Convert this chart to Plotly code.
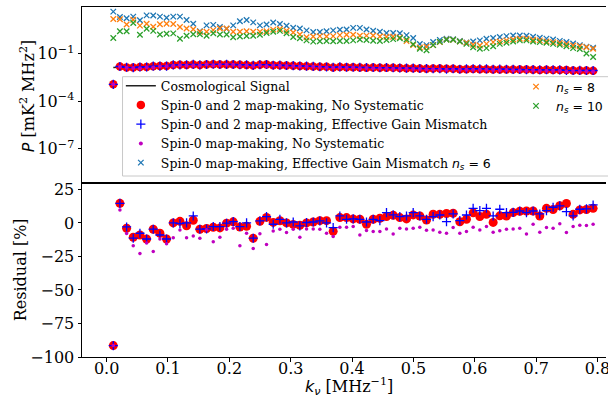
import plotly.graph_objects as go

# ---------------- data ----------------
k_nu = [0.0109, 0.0217, 0.0326, 0.0434, 0.0543, 0.0652, 0.0760, 0.0869, 0.0977, 0.1086,
        0.1195, 0.1303, 0.1412, 0.1520, 0.1629, 0.1738, 0.1846, 0.1955, 0.2063, 0.2172,
        0.2281, 0.2389, 0.2498, 0.2606, 0.2715, 0.2824, 0.2932, 0.3041, 0.3149, 0.3258,
        0.3367, 0.3475, 0.3584, 0.3692, 0.3801, 0.3910, 0.4018, 0.4127, 0.4235, 0.4344,
        0.4453, 0.4561, 0.4670, 0.4778, 0.4887, 0.4996, 0.5104, 0.5213, 0.5321, 0.5430,
        0.5539, 0.5647, 0.5756, 0.5864, 0.5973, 0.6082, 0.6190, 0.6299, 0.6407, 0.6516,
        0.6625, 0.6733, 0.6842, 0.6950, 0.7059, 0.7168, 0.7276, 0.7385, 0.7493, 0.7602,
        0.7711, 0.7819, 0.7928]

# cosmological signal, log10 P [mK^2 MHz^2]
signal_log10 = [-1.86, -1.86, -1.84, -1.82, -1.80, -1.78, -1.76, -1.74, -1.72, -1.70,
                -1.70, -1.69, -1.69, -1.68, -1.66, -1.65, -1.66, -1.67, -1.68, -1.68,
                -1.69, -1.68, -1.69, -1.70, -1.72, -1.73, -1.74, -1.75, -1.76, -1.78,
                -1.80, -1.82, -1.83, -1.84, -1.85, -1.86, -1.86, -1.87, -1.87, -1.88,
                -1.89, -1.90, -1.91, -1.92, -1.93, -1.94, -1.95, -1.95, -1.96, -1.96,
                -1.97, -1.97, -1.98, -1.98, -1.99, -1.99, -2.00, -2.00, -2.01, -2.01,
                -2.02, -2.03, -2.03, -2.04, -2.04, -2.05, -2.06, -2.07, -2.08, -2.08,
                -2.09, -2.10, -2.11]

# residuals [%]
res_s02_nosys = [-91.5, 14.6, -4.0, -10.7, -9.0, -12.0, -4.7, -7.7, -12.0, 0.0,
                 1.2, -2.2, 2.0, -4.7, -4.2, -3.2, -3.7, -0.2, 0.8, -3.0,
                 -2.5, -11.4, 1.2, 4.1, 0.4, 1.6, 0.0, -1.1, -1.7, 0.0,
                 0.7, 1.7, 1.7, -6.3, 4.0, 4.0, 3.0, 2.7, -1.0, 2.7,
                 3.5, 4.7, 5.7, 4.0, 3.0, 6.0, 5.2, 2.2, 6.5, 6.4,
                 7.0, 7.2, 0.9, 2.7, 7.5, 4.7, 6.4, 0.4, 5.3, 5.2,
                 7.7, 8.7, 8.9, 8.9, 5.2, 10.9, 10.0, 12.8, 14.5, 6.4,
                 9.7, 10.0, 10.9]
res_s02_gain = [-91.5, 14.6, -3.0, -11.4, -7.7, -12.0, -4.7, -9.0, -12.0, 0.0,
                -0.5, 0.0, 5.2, -4.7, -4.5, -2.7, -2.7, -0.2, 1.0, -2.7,
                0.0, -11.4, 1.5, 4.7, -1.0, 2.7, 0.0, 0.7, -2.2, 0.3,
                0.7, 1.5, 0.0, -3.5, 5.2, 2.7, 3.0, 2.7, 0.7, 2.7,
                1.7, 7.7, 6.0, 4.7, 5.2, 7.7, 5.2, 2.7, 4.7, 5.9,
                0.9, 6.7, 1.7, 5.9, 10.9, 9.2, 10.9, 5.2, 10.2, 7.7,
                7.9, 8.9, 7.7, 8.9, 6.7, 9.2, 11.7, 12.7, 8.4, 5.2,
                10.2, 10.5, 13.4]
res_s0_nosys = [-91.5, 9.7, -7.8, -17.0, -22.8, -15.0, -21.3, -12.0, -15.6, -11.0,
                -5.2, -11.0, -9.7, -11.4, -5.0, -14.0, -10.7, -4.7, -4.0, -17.0,
                -7.7, -19.0, -8.0, -16.0, -6.0, -4.7, -7.2, -4.7, -10.7, -4.5,
                -4.5, -4.7, -7.7, -10.2, -3.2, -3.2, -2.7, -9.0, -5.7, -6.4,
                -6.4, -4.5, -8.2, -4.0, -4.5, -4.0, -3.2, -5.5, -5.2, -6.9,
                -7.7, -3.5, -7.7, -6.4, -3.2, -5.2, -2.7, -6.9, -5.9, -4.7,
                -4.5, -4.0, -8.2, -1.0, -6.9, -3.5, -4.0, -0.7, -7.2, -2.7,
                -1.7, -2.0, -1.0]

# spin-0 map-making with effective gain mismatch, log10 P
s0_gain_ns6_log10 = [1.67, 1.33, 1.25, 1.35, 1.12, 1.43, 1.42, 1.35, 1.28, 1.35,
                     1.35, 1.14, 0.90, 0.43, 0.80, 0.83, 0.69, 0.59, 0.80, 1.06,
                     1.14, 0.99, 0.80, 0.85, 0.98, 0.88, 0.77, 0.65, 0.60, 0.48,
                     0.38, 0.38, 0.43, 0.48, 0.52, 0.54, 0.64, 0.64, 0.54, 0.46,
                     0.40, 0.32, 0.32, 0.30, 0.18, 0.00, -0.38, -0.45, -0.25, -0.12,
                     -0.05, -0.08, -0.18, -0.28, -0.22, -0.15, -0.05, 0.00, 0.06, 0.12,
                     0.16, 0.16, 0.14, 0.08, 0.02, -0.04, -0.10, -0.18, -0.25, -0.35,
                     -0.45, -0.55, -0.62]
s0_gain_ns8_log10 = [1.20, 1.19, 0.85, 1.15, 0.78, 0.90, 0.71, 0.87, 0.90, 0.88,
                     0.70, 0.60, 0.55, 0.40, 0.40, 0.50, 0.60, 0.60, 0.40, 0.40,
                     0.43, 0.40, 0.40, 0.43, 0.53, 0.57, 0.46, 0.35, 0.22, 0.05,
                     0.10, 0.12, 0.10, 0.12, 0.18, 0.20, 0.20, 0.14, 0.15, 0.16,
                     0.10, 0.08, 0.08, 0.04, -0.20, -0.45, -0.60, -0.55, -0.45, -0.26,
                     -0.09, -0.11, -0.22, -0.30, -0.43, -0.47, -0.37, -0.26, -0.22, -0.15,
                     -0.09, -0.05, -0.05, -0.11, -0.15, -0.22, -0.26, -0.32, -0.39, -0.47,
                     -0.52, -0.58, -0.68]
s0_gain_ns10_log10 = [0.00, 0.43, 0.43, 0.95, 0.20, 0.59, 0.45, 0.22, 0.27, 0.29,
                      -0.05, 0.14, 0.24, 0.24, 0.14, 0.30, 0.22, 0.22, 0.05, 0.09,
                      0.13, 0.14, 0.20, 0.32, 0.40, 0.45, 0.30, 0.06, -0.02, -0.15,
                      -0.23, -0.21, -0.19, -0.21, -0.19, -0.19, -0.15, -0.10, -0.13, -0.17,
                      -0.19, -0.13, -0.07, -0.02, -0.10, -0.40, -0.68, -0.78, -0.45, -0.24,
                      -0.11, -0.11, -0.22, -0.37, -0.58, -0.68, -0.64, -0.52, -0.37, -0.30,
                      -0.22, -0.15, -0.15, -0.22, -0.26, -0.30, -0.37, -0.43, -0.52, -0.64,
                      -0.70, -0.98, -1.20]

x_ticks = [0.0, 0.1, 0.2, 0.3, 0.4, 0.5, 0.6, 0.7, 0.8]
res_ticks = [25, 0, -25, -50, -75, -100]
p_ticks = [1e-7, 1e-4, 1e-1]
p_tick_text = ["10<sup>\u22127</sup>", "10<sup>\u22124</sup>", "10<sup>\u22121</sup>"]

# ---------------- derived quantities ----------------
signal = [10 ** v for v in signal_log10]
p_s02_nosys = [s * (1 + r / 100) for s, r in zip(signal, res_s02_nosys)]
p_s02_gain = [s * (1 + r / 100) for s, r in zip(signal, res_s02_gain)]
p_s0_nosys = [s * (1 + r / 100) for s, r in zip(signal, res_s0_nosys)]
p_ns6 = [10 ** v for v in s0_gain_ns6_log10]
p_ns8 = [10 ** v for v in s0_gain_ns8_log10]
p_ns10 = [10 ** v for v in s0_gain_ns10_log10]

# ---------------- layout geometry ----------------
W, H = 608, 399
ML, MR, MT, MB = 82, 0, 7, 42
PW, PH = W - ML - MR, H - MT - MB


def px(xp):
    return (xp - ML) / PW


def py(yp):
    return (H - MB - yp) / PH


SERIF = "DejaVu Serif"
RED = "#ff0000"
BLUE = "#0000ff"
MAG = "#bf00bf"
TAB_BLUE = "#1f77b4"
TAB_ORANGE = "#ff7f0e"
TAB_GREEN = "#2ca02c"

PLUS_SIZE = 6.5
X_SIZE = 5.5

split = 0.498

fig = go.Figure()

# ---- top panel ----
fig.add_trace(go.Scatter(x=k_nu, y=signal, mode="lines", xaxis="x2", yaxis="y2",
                         line=dict(color="#222222", width=1.5),
                         name="Cosmological Signal", legend="legend"))
fig.add_trace(go.Scatter(x=k_nu, y=p_s02_nosys, mode="markers", xaxis="x2", yaxis="y2",
                         marker=dict(symbol="circle", size=8.5, color=RED),
                         name="Spin-0 and 2 map-making, No Systematic", legend="legend"))
fig.add_trace(go.Scatter(x=k_nu, y=p_s02_gain, mode="markers", xaxis="x2", yaxis="y2",
                         marker=dict(symbol="cross-thin", size=PLUS_SIZE, color=BLUE,
                                     line=dict(color=BLUE, width=1.3)),
                         name="Spin-0 and 2 map-making, Effective Gain Mismatch", legend="legend"))
fig.add_trace(go.Scatter(x=k_nu, y=p_s0_nosys, mode="markers", xaxis="x2", yaxis="y2",
                         marker=dict(symbol="circle", size=4, color=MAG),
                         name="Spin-0 map-making, No Systematic", legend="legend"))


def ns_lbl(v):
    return ("<span style=\"font-family:DejaVu Sans\"><i>n</i><sub><i>s</i></sub> = "
            + v + "</span>")


fig.add_trace(go.Scatter(x=k_nu, y=p_ns6, mode="markers", xaxis="x2", yaxis="y2",
                         marker=dict(symbol="x-thin", size=X_SIZE, color=TAB_BLUE,
                                     line=dict(color=TAB_BLUE, width=1.3)),
                         name="Spin-0 map-making, Effective Gain Mismatch " + ns_lbl("6"),
                         legend="legend"))
fig.add_trace(go.Scatter(x=k_nu, y=p_ns8, mode="markers", xaxis="x2", yaxis="y2",
                         marker=dict(symbol="x-thin", size=X_SIZE, color=TAB_ORANGE,
                                     line=dict(color=TAB_ORANGE, width=1.3)),
                         name=ns_lbl("8"), legend="legend2"))
fig.add_trace(go.Scatter(x=k_nu, y=p_ns10, mode="markers", xaxis="x2", yaxis="y2",
                         marker=dict(symbol="x-thin", size=X_SIZE, color=TAB_GREEN,
                                     line=dict(color=TAB_GREEN, width=1.3)),
                         name=ns_lbl("10"), legend="legend2"))

# ---- bottom panel ----
fig.add_trace(go.Scatter(x=k_nu, y=res_s02_nosys, mode="markers", xaxis="x", yaxis="y",
                         marker=dict(symbol="circle", size=9, color=RED), showlegend=False))
fig.add_trace(go.Scatter(x=k_nu, y=res_s02_gain, mode="markers", xaxis="x", yaxis="y",
                         marker=dict(symbol="cross-thin", size=PLUS_SIZE, color=BLUE,
                                     line=dict(color=BLUE, width=1.3)), showlegend=False))
fig.add_trace(go.Scatter(x=k_nu, y=res_s0_nosys, mode="markers", xaxis="x", yaxis="y",
                         marker=dict(symbol="circle", size=3.5, color=MAG), showlegend=False))

tickfont = dict(family=SERIF, size=16, color="black")
xr = [(ML - 106.7) / 616.0, (W - 106.7) / 616.0]

common_x = dict(range=xr, showgrid=False, zeroline=False, showline=True, linecolor="black",
                linewidth=1, mirror=True, automargin=False)
fig.update_layout(
    width=W, height=H,
    margin=dict(l=ML, r=MR, t=MT, b=MB, pad=0),
    paper_bgcolor="white", plot_bgcolor="white",
    template="none",
    xaxis=dict(**common_x, anchor="y", domain=[0, 1], tickmode="array", tickvals=x_ticks,
               tickformat=".1f", ticks="outside", ticklen=3.5, tickwidth=1, tickcolor="black",
               tickfont=tickfont, ticklabeloverflow="allow", ticklabelstandoff=-7),
    yaxis=dict(domain=[0, split], anchor="x", range=[-100, 30], tickmode="array",
               tickvals=res_ticks, ticks="outside", ticklen=3.5, tickwidth=1, tickcolor="black",
               tickfont=tickfont, showgrid=False, zeroline=False, showline=True,
               linecolor="black", linewidth=1, automargin=False),
    xaxis2=dict(**common_x, anchor="y2", matches="x", showticklabels=False, ticks=""),
    yaxis2=dict(domain=[split, 1], anchor="x2", type="log", range=[-9.15, 1.96],
                tickmode="array", tickvals=p_ticks, ticktext=p_tick_text, ticks="outside",
                ticklen=3.5, tickwidth=1, tickcolor="black", tickfont=tickfont,
                showgrid=False, zeroline=False, showline=True, linecolor="black",
                linewidth=1, automargin=False),
    legend=dict(x=px(121), y=py(71), xanchor="left", yanchor="top",
                bgcolor="rgba(0,0,0,0)", borderwidth=0, itemwidth=30, tracegroupgap=0,
                font=dict(family=SERIF, size=12.5, color="black")),
    legend2=dict(x=px(518), y=py(72), xanchor="left", yanchor="top",
                 bgcolor="rgba(0,0,0,0)", borderwidth=0, itemwidth=30, tracegroupgap=0,
                 font=dict(family=SERIF, size=12.5, color="black")),
    showlegend=True,
)

# legend frame
fig.add_shape(type="rect", xref="paper", yref="paper",
              x0=px(122.7), x1=px(660), y0=py(176), y1=py(76.7),
              line=dict(color="#c8c8c8", width=1), fillcolor="rgba(255,255,255,0.8)",
              layer="above")

# axis titles
fig.add_annotation(text="<span style=\"font-family:DejaVu Sans\"><i>P</i></span> [mK<sup>2</sup> MHz<sup>2</sup>]",
                   x=px(27), y=py(96), xref="paper", yref="paper", textangle=-90,
                   showarrow=False, xanchor="center", yanchor="middle",
                   font=dict(family=SERIF, size=16, color="black"))
fig.add_annotation(text="Residual [%]",
                   x=px(20), y=py(270), xref="paper", yref="paper", textangle=-90,
                   showarrow=False, xanchor="center", yanchor="middle",
                   font=dict(family=SERIF, size=16, color="black"))
fig.add_annotation(text="<span style=\"font-family:DejaVu Sans\"><i>k</i><sub><i>\u03bd</i></sub></span> [MHz<sup>\u22121</sup>]",
                   x=px(350), y=py(387), xref="paper", yref="paper",
                   showarrow=False, xanchor="center", yanchor="middle",
                   font=dict(family=SERIF, size=16, color="black"))

fig.write_html("out.html")
